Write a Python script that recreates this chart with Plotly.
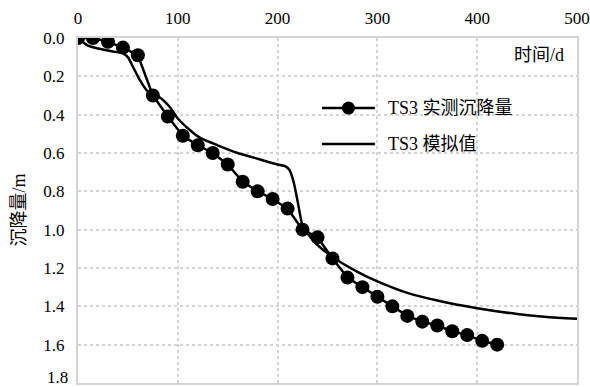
import plotly.graph_objects as go

# Measured settlement (TS3 实测沉降量)
meas_days = [0, 15, 30, 45, 60, 75, 90, 105, 120, 135, 150, 165, 180, 195, 210,
             225, 240, 255, 270, 285, 300, 315, 330, 345, 360, 375, 390, 405, 420]
meas_vals = [0.00, 0.00, 0.02, 0.05, 0.09, 0.30, 0.41, 0.51, 0.56, 0.60, 0.66, 0.75, 0.80, 0.84, 0.89,
             1.00, 1.04, 1.15, 1.25, 1.30, 1.35, 1.40, 1.45, 1.48, 1.50, 1.53, 1.55, 1.58, 1.60]

# Simulated settlement (TS3 模拟值)
sim_days = [0, 10, 20, 35, 45, 50, 55, 62, 70, 82, 92, 100, 112, 122, 140, 160, 180, 200,
            208, 212, 216, 220, 225, 230, 240, 260, 280, 300, 330, 360, 400, 440, 470, 500]
sim_vals = [0.00, 0.04, 0.055, 0.07, 0.08, 0.10, 0.15, 0.22, 0.28, 0.31, 0.36, 0.42, 0.48, 0.52,
            0.56, 0.60, 0.63, 0.66, 0.67, 0.69, 0.75, 0.85, 0.98, 1.02, 1.08, 1.16, 1.22, 1.27,
            1.33, 1.37, 1.41, 1.44, 1.455, 1.465]

x_ticks = [0, 100, 200, 300, 400, 500]
y_ticks = [0.0, 0.2, 0.4, 0.6, 0.8, 1.0, 1.2, 1.4, 1.6, 1.8]
y_ticktext = ["0.0", "0.2", "0.4", "0.6", "0.8", "1.0", "1.2", "1.4", "1.6", ""]
y_last_label = "1.8"

series_names = ["TS3 实测沉降量", "TS3 模拟值"]

FONT = "Liberation Serif, Noto Sans CJK SC"
TICK_SIZE = 17
TEXT_SIZE = 18

fig = go.Figure()
fig.add_trace(go.Scatter(
    x=meas_days, y=meas_vals, mode="lines+markers", name=series_names[0],
    line=dict(color="black", width=2.5),
    marker=dict(color="black", size=14),
    showlegend=False,
))
fig.add_trace(go.Scatter(
    x=sim_days, y=sim_vals, mode="lines", name=series_names[1],
    line=dict(color="black", width=2.5, shape="spline", smoothing=0.6),
    showlegend=False,
))

# Manual legend (positions in paper coordinates of the plot area)
leg_x0, leg_x1, leg_tx = 0.489, 0.595, 0.617
leg_y = [0.797, 0.693]
shapes = []
annotations = []
for i, nm in enumerate(series_names):
    shapes.append(dict(type="line", xref="paper", yref="paper",
                       x0=leg_x0, x1=leg_x1, y0=leg_y[i], y1=leg_y[i],
                       line=dict(color="black", width=2.5)))
    annotations.append(dict(text=nm, xref="paper", yref="paper", x=leg_tx, y=leg_y[i],
                            xanchor="left", yanchor="middle", showarrow=False,
                            font=dict(size=TEXT_SIZE, family=FONT, color="black")))
shapes.append(dict(type="circle", xref="paper", yref="paper",
                   xsizemode="pixel", ysizemode="pixel",
                   xanchor=(leg_x0 + leg_x1) / 2, yanchor=leg_y[0],
                   x0=-6.5, x1=6.5, y0=-6.5, y1=6.5,
                   fillcolor="black", line=dict(color="black", width=0)))

annotations.append(dict(text="时间/d", x=1, y=1, xref="paper", yref="paper",
                        xanchor="right", yanchor="middle", xshift=-11, yshift=-16.5,
                        showarrow=False, font=dict(size=TEXT_SIZE, family=FONT, color="black")))
annotations.append(dict(text="沉降量/m", x=-0.12, y=0.5, xref="paper", yref="paper",
                        xanchor="center", yanchor="middle", textangle=-90,
                        showarrow=False, font=dict(size=TEXT_SIZE, family=FONT, color="black")))
annotations.append(dict(text=y_last_label, x=0, y=y_ticks[-1], xref="paper", yref="y",
                        xanchor="right", yanchor="middle", xshift=-8, yshift=6,
                        showarrow=False, font=dict(size=TICK_SIZE, family=FONT, color="black")))

grid = "#d4d4d4"
fig.update_layout(
    width=590, height=387,
    margin=dict(l=78, r=13, t=38, b=4, autoexpand=False),
    paper_bgcolor="white", plot_bgcolor="white",
    font=dict(family=FONT, size=TICK_SIZE, color="black"),
    showlegend=False,
    xaxis=dict(side="top", range=[0, 500], tickvals=x_ticks,
               showgrid=True, gridcolor=grid, griddash="dot", gridwidth=1.5,
               showline=True, linecolor=grid, linewidth=2, mirror=True,
               ticks="", zeroline=False, ticklabelstandoff=5, automargin=False,
               ticklabeloverflow="allow"),
    yaxis=dict(range=[1.8, 0], tickvals=y_ticks, ticktext=y_ticktext,
               showgrid=True, gridcolor=grid, griddash="dot", gridwidth=1.5,
               showline=True, linecolor=grid, linewidth=2, mirror=True,
               ticks="", zeroline=False, ticklabelstandoff=8, automargin=False,
               ticklabeloverflow="allow"),
    shapes=shapes,
    annotations=annotations,
)

fig.write_html("out.html", config={"displayModeBar": False},
               post_script="document.body.style.margin='0';document.body.style.padding='0';")
